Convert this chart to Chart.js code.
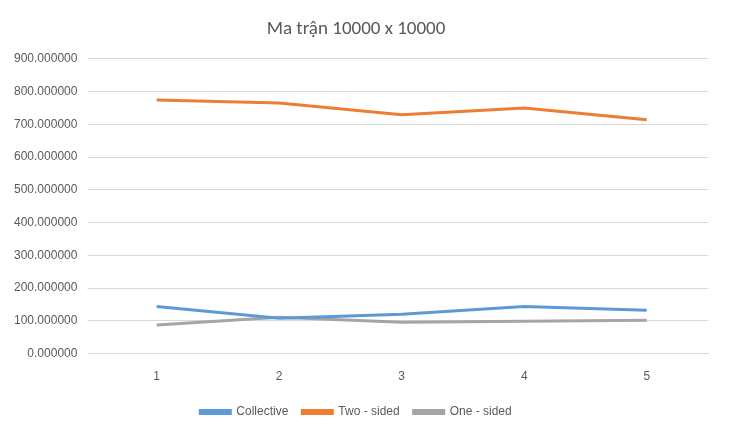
<!DOCTYPE html>
<html>
<head>
<meta charset="utf-8">
<script src="https://cdn.jsdelivr.net/npm/chart.js@4/dist/chart.umd.min.js"></script>
<style>
body{margin:0;background:#fff;}
#wrap{width:730px;height:438px;position:relative;}
</style>
</head>
<body>
<div id="wrap"><canvas id="c" width="730" height="438"></canvas></div>
<script>
var labels = ["1", "2", "3", "4", "5"]
var collective = [144, 108, 120, 144, 132]
var twoSided = [774, 765, 729, 750, 714]
var oneSided = [87, 111, 96, 99, 102]

new Chart(document.getElementById("c"), {
  type: 'line',
  data: {
    labels: labels,
    datasets: [
      {label: "Collective", data: collective, borderColor: "#5b9bd5", backgroundColor: "#5b9bd5"},
      {label: "Two - sided", data: twoSided, borderColor: "#ed7d31", backgroundColor: "#ed7d31"},
      {label: "One - sided", data: oneSided, borderColor: "#a5a5a5", backgroundColor: "#a5a5a5"}
    ]
  },
  options: {
    responsive: false,
    animation: false,
    layout: {padding: {left: 4, right: 22, top: 12, bottom: 10}},
    elements: {line: {borderWidth: 3, tension: 0}, point: {radius: 0}},
    plugins: {
      title: {display: true, text: "Ma trận 10000 x 10000", color: "#595959",
        font: {family: "Calibri, Carlito, 'Liberation Sans', sans-serif", size: 19, weight: 'normal'},
        padding: {top: 6, bottom: 18}},
      legend: {position: 'bottom', labels: {boxWidth: 30, boxHeight: 3, color: "#595959",
        font: {family: "'Liberation Sans', sans-serif", size: 12}, padding: 14}}
    },
    scales: {
      x: {offset: true, grid: {display: false}, border: {color: "#d9d9d9"},
        ticks: {color: "#595959", font: {size: 12}, padding: 8}},
      y: {min: 0, max: 900, border: {display: false},
        grid: {color: "#d9d9d9"},
        ticks: {stepSize: 100, color: "#595959", font: {size: 12}, padding: 10,
          callback: function(v){ return v.toFixed(6) }}}
    }
  }
})
</script>
</body>
</html>
